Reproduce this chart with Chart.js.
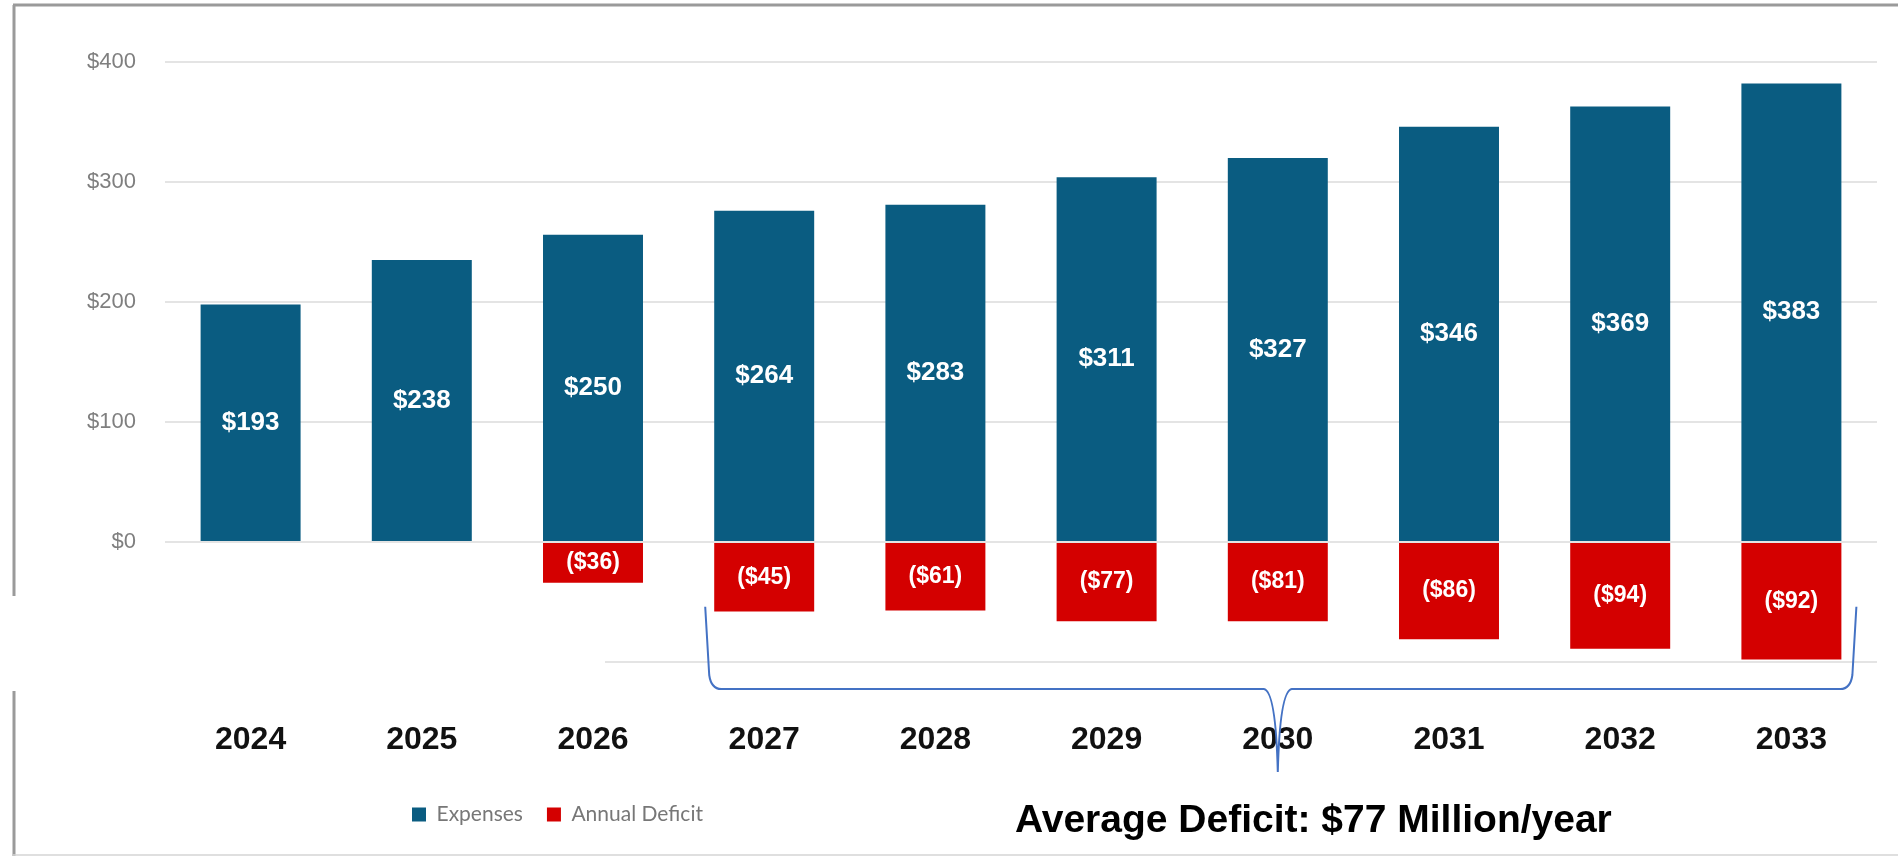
<!DOCTYPE html>
<html>
<head>
<meta charset="utf-8">
<title>Expenses and Annual Deficit</title>
<script src="https://cdn.jsdelivr.net/npm/chart.js@4.4.1/dist/chart.umd.min.js"></script>
<style>
  html, body { margin: 0; padding: 0; background: #fff; }
  #wrap { position: relative; width: 1898px; height: 856px; }
</style>
</head>
<body>
<div id="wrap"><canvas id="chart"></canvas></div>
<script>
// values (bar heights) and the printed labels
const years = ['2024', '2025', '2026', '2027', '2028', '2029', '2030', '2031', '2032', '2033'];
const expenses = [198, 235, 256, 276, 281, 304, 320, 346, 363, 382];
const expenseLabels = ['$193', '$238', '$250', '$264', '$283', '$311', '$327', '$346', '$369', '$383'];
const deficits = [null, null, -34, -58, -57, -66, -66, -81, -89, -98];
const deficitLabels = ['', '', '($36)', '($45)', '($61)', '($77)', '($81)', '($86)', '($94)', '($92)'];
const yMin = -100;
const yMax = 400;
const yStep = 100;
const braceRange = [3, 9]; // 2027 .. 2033
const noteText = 'Average Deficit: $77 Million/year';

const colors = {
  expenses: '#0a5c81',
  deficit: '#d40000',
  grid: '#e4e4e4',
  yText: '#7f7f7f',
  xText: '#111111',
  legendText: '#777777',
  brace: '#4472c4',
  frame: '#9a9a9a'
};

Chart.defaults.font.family = '"Liberation Sans", Arial, sans-serif';

// frame round the picture
const framePlugin = {
  id: 'frame',
  beforeDraw(chart) {
    const ctx = chart.ctx;
    ctx.save();
    ctx.strokeStyle = colors.frame;
    ctx.lineWidth = 3;
    ctx.beginPath();
    ctx.moveTo(13, 5);
    ctx.lineTo(chart.width, 5);
    ctx.moveTo(14, 5);
    ctx.lineTo(14, chart.height);
    ctx.stroke();
    ctx.strokeStyle = '#d4d4d4';
    ctx.lineWidth = 1.5;
    ctx.beginPath();
    ctx.moveTo(13, chart.height - 1);
    ctx.lineTo(chart.width, chart.height - 1);
    ctx.stroke();
    ctx.restore();
  }
};

// value labels inside the bars
const barLabelPlugin = {
  id: 'barLabels',
  afterDatasetsDraw(chart) {
    const ctx = chart.ctx;
    const texts = [expenseLabels, deficitLabels];
    const sizes = [26, 23];
    ctx.save();
    ctx.fillStyle = '#ffffff';
    ctx.textAlign = 'center';
    ctx.textBaseline = 'middle';
    chart.data.datasets.forEach((ds, di) => {
      const meta = chart.getDatasetMeta(di);
      ctx.font = `bold ${sizes[di]}px "Liberation Sans", Arial, sans-serif`;
      meta.data.forEach((bar, i) => {
        if (!texts[di][i] || ds.data[i] == null) return;
        ctx.fillText(texts[di][i], bar.x, (bar.y + bar.base) / 2);
      });
    });
    ctx.restore();
  }
};

// move the legend row to where it sits in the picture
const legendShiftPlugin = {
  id: 'legendShift',
  afterLayout(chart) {
    if (chart.legend) chart.legend.left = 388;
  }
};

// pasted-over patch, curly brace and the average note
const overlayPlugin = {
  id: 'overlay',
  afterDraw(chart) {
    const ctx = chart.ctx;
    const xs = chart.scales.x;
    const ys = chart.scales.y;
    const area = chart.chartArea;

    ctx.save();
    ctx.fillStyle = '#ffffff';
    ctx.fillRect(0, 596, 605, 95);

    const half = chart.getDatasetMeta(0).data[braceRange[0]].width / 2;
    const L = xs.getPixelForValue(braceRange[0]) - half - 9;
    const R = xs.getPixelForValue(braceRange[1]) + half + 15;
    const M = xs.getPixelForValue((braceRange[0] + braceRange[1]) / 2);
    const top = ys.getPixelForValue(-54);
    const mid = area.bottom + 27;
    const tip = area.bottom + 110;
    ctx.strokeStyle = colors.brace;
    ctx.lineWidth = 2;
    ctx.beginPath();
    ctx.moveTo(L, top);
    ctx.lineTo(L + 4, mid - 14);
    ctx.quadraticCurveTo(L + 6, mid, L + 16, mid);
    ctx.lineTo(M - 14, mid);
    ctx.quadraticCurveTo(M - 2, mid + 2, M, tip);
    ctx.quadraticCurveTo(M + 2, mid + 2, M + 14, mid);
    ctx.lineTo(R - 16, mid);
    ctx.quadraticCurveTo(R - 6, mid, R - 4, mid - 14);
    ctx.lineTo(R, top);
    ctx.stroke();

    ctx.fillStyle = '#000000';
    ctx.font = 'bold 39px "Liberation Sans", Arial, sans-serif';
    ctx.textAlign = 'left';
    ctx.textBaseline = 'alphabetic';
    ctx.fillText(noteText, area.left + 850, 832);
    ctx.restore();
  }
};

new Chart(document.getElementById('chart'), {
  type: 'bar',
  data: {
    labels: years,
    datasets: [
      {
        label: 'Expenses',
        data: expenses,
        backgroundColor: colors.expenses,
        borderWidth: 0,
        barPercentage: 0.584,
        categoryPercentage: 1
      },
      {
        label: 'Annual Deficit',
        data: deficits,
        backgroundColor: colors.deficit,
        borderWidth: 0,
        barPercentage: 0.584,
        categoryPercentage: 1
      }
    ]
  },
  options: {
    responsive: true,
    maintainAspectRatio: false,
    animation: false,
    devicePixelRatio: 1,
    layout: {
      padding: { top: 62, right: 21, bottom: 21, left: 0 }
    },
    scales: {
      x: {
        stacked: true,
        grid: { display: false },
        border: { display: false },
        ticks: {
          color: colors.xText,
          padding: 51,
          maxRotation: 0,
          font: { size: 32, weight: 'bold' }
        },
        afterFit: (scale) => { scale.height = 118; }
      },
      y: {
        stacked: true,
        min: yMin,
        max: yMax,
        grid: {
          color: colors.grid,
          lineWidth: 2,
          drawTicks: false
        },
        border: { display: false },
        ticks: {
          stepSize: yStep,
          color: colors.yText,
          padding: 29,
          font: { size: 22 },
          callback: (v) => (v < 0 ? '-$' + (-v) : '$' + v)
        },
        afterFit: (scale) => { scale.width = 165; }
      }
    },
    plugins: {
      legend: {
        position: 'bottom',
        align: 'start',
        labels: {
          boxWidth: 14,
          boxHeight: 14,
          padding: 24,
          color: colors.legendText,
          font: { family: 'Lato, "Open Sans", sans-serif', size: 21 }
        }
      },
      tooltip: { enabled: false }
    }
  },
  plugins: [framePlugin, barLabelPlugin, legendShiftPlugin, overlayPlugin]
});
</script>
</body>
</html>
